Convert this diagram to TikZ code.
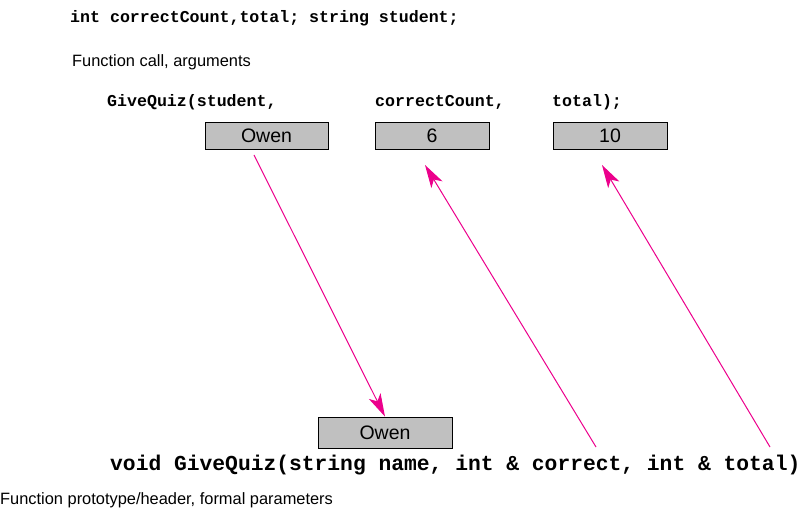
\documentclass[tikz,border=0pt]{standalone}
\usepackage{fontspec}
\setmainfont{Liberation Sans}
\setmonofont{Liberation Mono}
\usetikzlibrary{arrows.meta}
\definecolor{arrowpink}{RGB}{236,0,140}
\definecolor{boxgray}{RGB}{192,192,192}
\tikzset{
    valbox/.style={draw, fill=boxgray, line width=0.8pt, inner sep=0pt, font=\fontsize{19.5}{19.5}\selectfont},
    code/.style={anchor=west, inner sep=0pt, font=\fontsize{16.6}{16.6}\selectfont\ttfamily\bfseries},
    note/.style={anchor=west, inner sep=0pt, font=\fontsize{16.4}{16.4}\selectfont},
    pass/.style={draw=arrowpink, line width=1pt, -{Stealth[length=23pt,width=13pt,inset=6pt]}}
}
\begin{document}
\begin{tikzpicture}[x=1pt, y=-1pt]
    \useasboundingbox (0,0) rectangle (806,518);
    \node[code](decl)                at (70,18) {int correctCount,total; string student;};
    \node[note](callnote)            at (72,62) {Function call, arguments};
    \node[code](argstudent)          at (107,102) {GiveQuiz(student,};
    \node[code](argcount)            at (375,102) {correctCount,};
    \node[code](argtotal)            at (552,102) {total);};
    \node[valbox, minimum width=123pt, minimum height=27pt](owen)  at (266.5,135.5) {Owen};
    \node[valbox, minimum width=114pt, minimum height=27pt](six)   at (432,135.5) {6};
    \node[valbox, minimum width=114pt, minimum height=27pt](ten)   at (610,135.5) {10};
    \node[valbox, minimum width=134pt, minimum height=31pt](name)  at (385,432.5) {Owen};
    \node[code, font=\fontsize{21.3}{21.3}\selectfont\ttfamily\bfseries](header) at (110,465) {void GiveQuiz(string name, int \& correct, int \& total)};
    \node[note](headnote)            at (0,500) {Function prototype/header, formal parameters};
    % Arrow ends
    \coordinate (owenout)    at (254,155);
    \coordinate (sixin)      at (425,165);
    \coordinate (tenin)      at (602,165);
    \coordinate (correctout) at (596,447);
    \coordinate (totalout)   at (770,447);
    % Arrows
    \path
        (owenout)
            edge [pass] (name.north)
        (correctout)
            edge [pass] (sixin)
        (totalout)
            edge [pass] (tenin)
        ;
\end{tikzpicture}
\end{document}
